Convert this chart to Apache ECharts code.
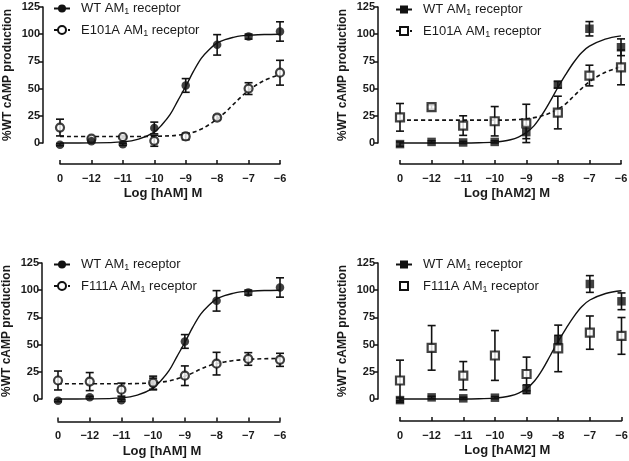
<!DOCTYPE html>
<html><head><meta charset="utf-8">
<script src="https://cdn.jsdelivr.net/npm/echarts/dist/echarts.min.js"></script>
<style>html,body{margin:0;padding:0;background:#fff}#c{width:629px;height:461px}</style>
</head><body><div id="c"></div>
<script>
// ---- data ----
const xTickValues = [-13, -12, -11, -10, -9, -8, -7, -6];
const xTickLabels = ['0', '\u221212', '\u221211', '\u221210', '\u22129', '\u22128', '\u22127', '\u22126'];
const doseX = [-13, -12, -11, -10, -9, -8, -7, -6];

// Panel A: hAM, WT vs E101A
const wtAM      = [-1.5, 1.5, -1.2, 13.8, 52.9, 90.2, 97.8, 102.5];
const wtAMErr   = [1, 1, 1, 5.4, 6.3, 9.4, 2.3, 8.9];
const e101aAM    = [14.2, 4, 5.5, 2, 6, 23.4, 50, 64.6];
const e101aAMErr = [7.7, 1, 1, 5, 3, 2, 5.4, 11.4];
// Panel B: hAM2, WT vs E101A
const wtAM2      = [-1, 1, 0.5, 1, 10, 53.6, 105, 88];
const wtAM2Err   = [2, 1, 1, 1, 6, 3, 6.6, 7.7];
const e101aAM2    = [23.6, 33, 16, 20, 18, 28, 62, 69.5];
const e101aAM2Err = [12.7, 2, 9, 13.5, 17.6, 15, 9.5, 16];
// Panel C: hAM, WT vs F111A
const f111aAM    = [17, 16, 8.6, 15, 21.4, 32.5, 36.8, 36];
const f111aAMErr = [8.7, 8.3, 6, 6, 9, 10.4, 5.8, 6];
// Panel D: hAM2, WT vs F111A
const wtAM2b      = [-1, 1.5, 0.6, 1.2, 9, 54.5, 105.7, 89.8];
const wtAM2bErr   = [2, 1, 1, 1, 4, 4, 7.7, 7.7];
const f111aAM2    = [17, 47, 21.4, 40, 23, 46.5, 61, 58];
const f111aAM2Err = [18.7, 20.5, 13, 22.9, 15.5, 21.4, 15.3, 16.9];

// fitted curves
const curveX      = [-13, -12, -11, -10.5, -10, -9.75, -9.5, -9.25, -9, -8.75, -8.5, -8.25, -8, -7.75, -7.5, -7.25, -7, -6.5, -6];
const wtAMFit     = [0, 0.1, 1, 3.5, 10, 17, 26, 39, 52, 66, 78, 86, 92, 95, 97, 98.5, 99, 99.7, 100];
const e101aAMFit  = [6, 6, 6, 6, 6.1, 6.3, 6.6, 7.2, 8.2, 10, 12.8, 17, 22, 28, 35, 42, 48.5, 57.5, 63];
const wtAM2Fit    = [0, 0, 0, 0.2, 0.8, 1.6, 3, 5.5, 9.5, 16, 26, 38, 51, 63, 74, 83, 89, 95.5, 98.5];
const e101aAM2Fit = [21, 21, 21, 21, 21, 21, 21.2, 21.6, 22.3, 23.3, 25, 27.5, 31, 36, 43, 50, 56.5, 65, 70];
const f111aAMFit  = [14, 14, 14, 14.2, 14.8, 15.5, 16.6, 18.5, 21, 24, 27.5, 30.5, 32.5, 34, 35.2, 36, 36.5, 37, 37.2];
const wtAM2bFit   = [0, 0, 0, 0.2, 0.8, 1.6, 3, 5.5, 9.5, 16.5, 27, 40, 53, 65, 76, 85, 91, 97, 99.5];

const legendText = {
  wtA: 'WT AM{s|1} receptor', e101aA: 'E101A AM{s|1} receptor',
  wtB: 'WT AM{s|1} receptor', e101aB: 'E101A AM{s|1} receptor',
  wtC: 'WT AM{s|1} receptor', f111aC: 'F111A AM{s|1} receptor',
  wtD: 'WT AM{s|1} receptor', f111aD: 'F111A AM{s|1} receptor'
};
const xTitles = ['Log [hAM] M', 'Log [hAM2] M', 'Log [hAM] M', 'Log [hAM2] M'];
const yTitle = '%WT cAMP production';

// ---- layout ----
const FONT = '"Liberation Sans", Arial, sans-serif';
const INK = '#111';
const TXT = '#1a1a1a';
const grids = [
  {left: 60, top: 7, width: 220, height: 136},
  {left: 400, top: 7, width: 221, height: 136},
  {left: 58, top: 263, width: 222, height: 136},
  {left: 400, top: 263, width: 221.5, height: 136}
];
const yOffsets = [17, 22, 16, 22];
const xOffsets = [21, 21, 22.5, 22];
const xNamePad = [14, 7, 14, 7];

function pairs(xs, ys) { return xs.map((x, k) => [x, ys[k]]); }

function errSeries(i, ys, errs) {
  return {
    type: 'custom', xAxisIndex: i, yAxisIndex: i, silent: true, z: 2, clip: false,
    data: doseX.map((x, k) => [x, ys[k], errs[k]]),
    encode: {x: 0, y: 1},
    renderItem(params, api) {
      const x = api.value(0), y = api.value(1), e = api.value(2);
      const t = api.coord([x, y + e]), b = api.coord([x, y - e]);
      const w = 4;
      const st = {stroke: INK, lineWidth: 1.6};
      return {type: 'group', children: [
        {type: 'line', shape: {x1: t[0], y1: t[1], x2: b[0], y2: b[1]}, style: st},
        {type: 'line', shape: {x1: t[0] - w, y1: t[1], x2: t[0] + w, y2: t[1]}, style: st},
        {type: 'line', shape: {x1: b[0] - w, y1: b[1], x2: b[0] + w, y2: b[1]}, style: st}
      ]};
    }
  };
}
function pointSeries(i, ys, shape, open) {
  return {
    type: 'scatter', xAxisIndex: i, yAxisIndex: i, silent: true, z: 3, clip: false,
    symbol: shape, symbolSize: open ? 8 : 8.5,
    itemStyle: open ? {color: '#fff', borderColor: INK, borderWidth: 2.2} : {color: INK},
    data: pairs(doseX, ys)
  };
}
function curveSeries(i, name, ys, legendSymbol, dashed) {
  return {
    type: 'line', name, xAxisIndex: i, yAxisIndex: i, silent: true, z: 1, clip: false,
    smooth: 0.35, symbol: legendSymbol, symbolSize: 8, showSymbol: false,
    lineStyle: {color: INK, width: dashed ? 1.6 : 1.4, type: dashed ? [4, 3] : 'solid'},
    itemStyle: {color: INK},
    data: pairs(curveX, ys)
  };
}
function legendOnly(i, name, shape) {
  // empty series: only supplies a legend icon (symbol, no line) for points drawn by pointSeries
  return {
    type: 'line', name, xAxisIndex: i, yAxisIndex: i, silent: true, z: 1,
    symbol: shape, symbolSize: 8, showSymbol: false,
    lineStyle: {color: INK, width: 0, opacity: 0},
    itemStyle: {color: INK},
    data: []
  };
}

const series = [
  // A
  curveSeries(0, 'wtA', wtAMFit, 'circle', false),
  curveSeries(0, 'e101aA', e101aAMFit, 'emptyCircle', true),
  errSeries(0, wtAM, wtAMErr), errSeries(0, e101aAM, e101aAMErr),
  pointSeries(0, e101aAM, 'circle', true), pointSeries(0, wtAM, 'circle', false),
  // B
  curveSeries(1, 'wtB', wtAM2Fit, 'rect', false),
  curveSeries(1, 'e101aB', e101aAM2Fit, 'emptyRect', true),
  errSeries(1, wtAM2, wtAM2Err), errSeries(1, e101aAM2, e101aAM2Err),
  pointSeries(1, wtAM2, 'rect', false), pointSeries(1, e101aAM2, 'rect', true),
  // C
  curveSeries(2, 'wtC', wtAMFit, 'circle', false),
  curveSeries(2, 'f111aC', f111aAMFit, 'emptyCircle', true),
  errSeries(2, wtAM, wtAMErr), errSeries(2, f111aAM, f111aAMErr),
  pointSeries(2, wtAM, 'circle', false), pointSeries(2, f111aAM, 'circle', true),
  // D
  curveSeries(3, 'wtD', wtAM2bFit, 'rect', false),
  legendOnly(3, 'f111aD', 'emptyRect'),
  errSeries(3, wtAM2b, wtAM2bErr), errSeries(3, f111aAM2, f111aAM2Err),
  pointSeries(3, wtAM2b, 'rect', false), pointSeries(3, f111aAM2, 'rect', true)
];

const legendPos = [
  {left: 53, top: 2, data: ['wtA', 'e101aA']},
  {left: 395, top: 3, data: ['wtB', 'e101aB']},
  {left: 53, top: 258, data: ['wtC', 'f111aC']},
  {left: 395, top: 258, data: ['wtD', 'f111aD']}
];

const option = {
  animation: false,
  backgroundColor: '#fff',
  grid: grids.map(g => Object.assign({containLabel: false, outerBoundsMode: 'none'}, g)),
  xAxis: grids.map((g, i) => ({
    gridIndex: i, type: 'value', min: -13, max: -6, interval: 1, position: 'bottom', offset: xOffsets[i],
    axisLine: {show: true, onZero: false, lineStyle: {color: INK, width: 1.5}},
    axisTick: {show: true, inside: true, length: 4, lineStyle: {color: INK, width: 1.5}},
    axisLabel: {
      margin: 9, fontFamily: FONT, fontSize: 11, fontWeight: 'bold', color: TXT,
      formatter: v => { const k = xTickValues.indexOf(v); return k >= 0 ? xTickLabels[k] : ''; }
    },
    splitLine: {show: false},
    name: xTitles[i], nameLocation: 'middle', nameGap: 23,
    nameTextStyle: {fontFamily: FONT, fontSize: 13, fontWeight: 'bold', color: TXT, padding: [0, xNamePad[i], 0, 0]}
  })),
  yAxis: grids.map((g, i) => ({
    gridIndex: i, type: 'value', min: 0, max: 125, interval: 25, offset: yOffsets[i],
    axisLine: {show: true, onZero: false, lineStyle: {color: INK, width: 1.5}},
    axisTick: {show: true, inside: false, length: 4, lineStyle: {color: INK, width: 1.5}},
    axisLabel: {margin: 3, fontFamily: FONT, fontSize: 11, fontWeight: 'bold', color: TXT},
    splitLine: {show: false},
    name: yTitle, nameLocation: 'middle', nameGap: 29,
    nameTextStyle: {fontFamily: FONT, fontSize: 12, fontWeight: 'bold', color: TXT}
  })),
  legend: legendPos.map(p => ({
    orient: 'vertical', left: p.left, top: p.top, padding: 0,
    itemWidth: 16, itemHeight: 10, itemGap: 7, selectedMode: false,
    data: p.data,
    formatter: n => legendText[n],
    textStyle: {
      fontFamily: FONT, fontSize: 13, color: TXT, padding: [0, 0, 0, 6],
      rich: {s: {fontFamily: FONT, fontSize: 9, color: TXT, padding: [7, 0, 0, 0]}}
    }
  })),
  series
};

const chart = echarts.init(document.getElementById('c'), null, {renderer: 'canvas'});
chart.setOption(option);
</script></body></html>
